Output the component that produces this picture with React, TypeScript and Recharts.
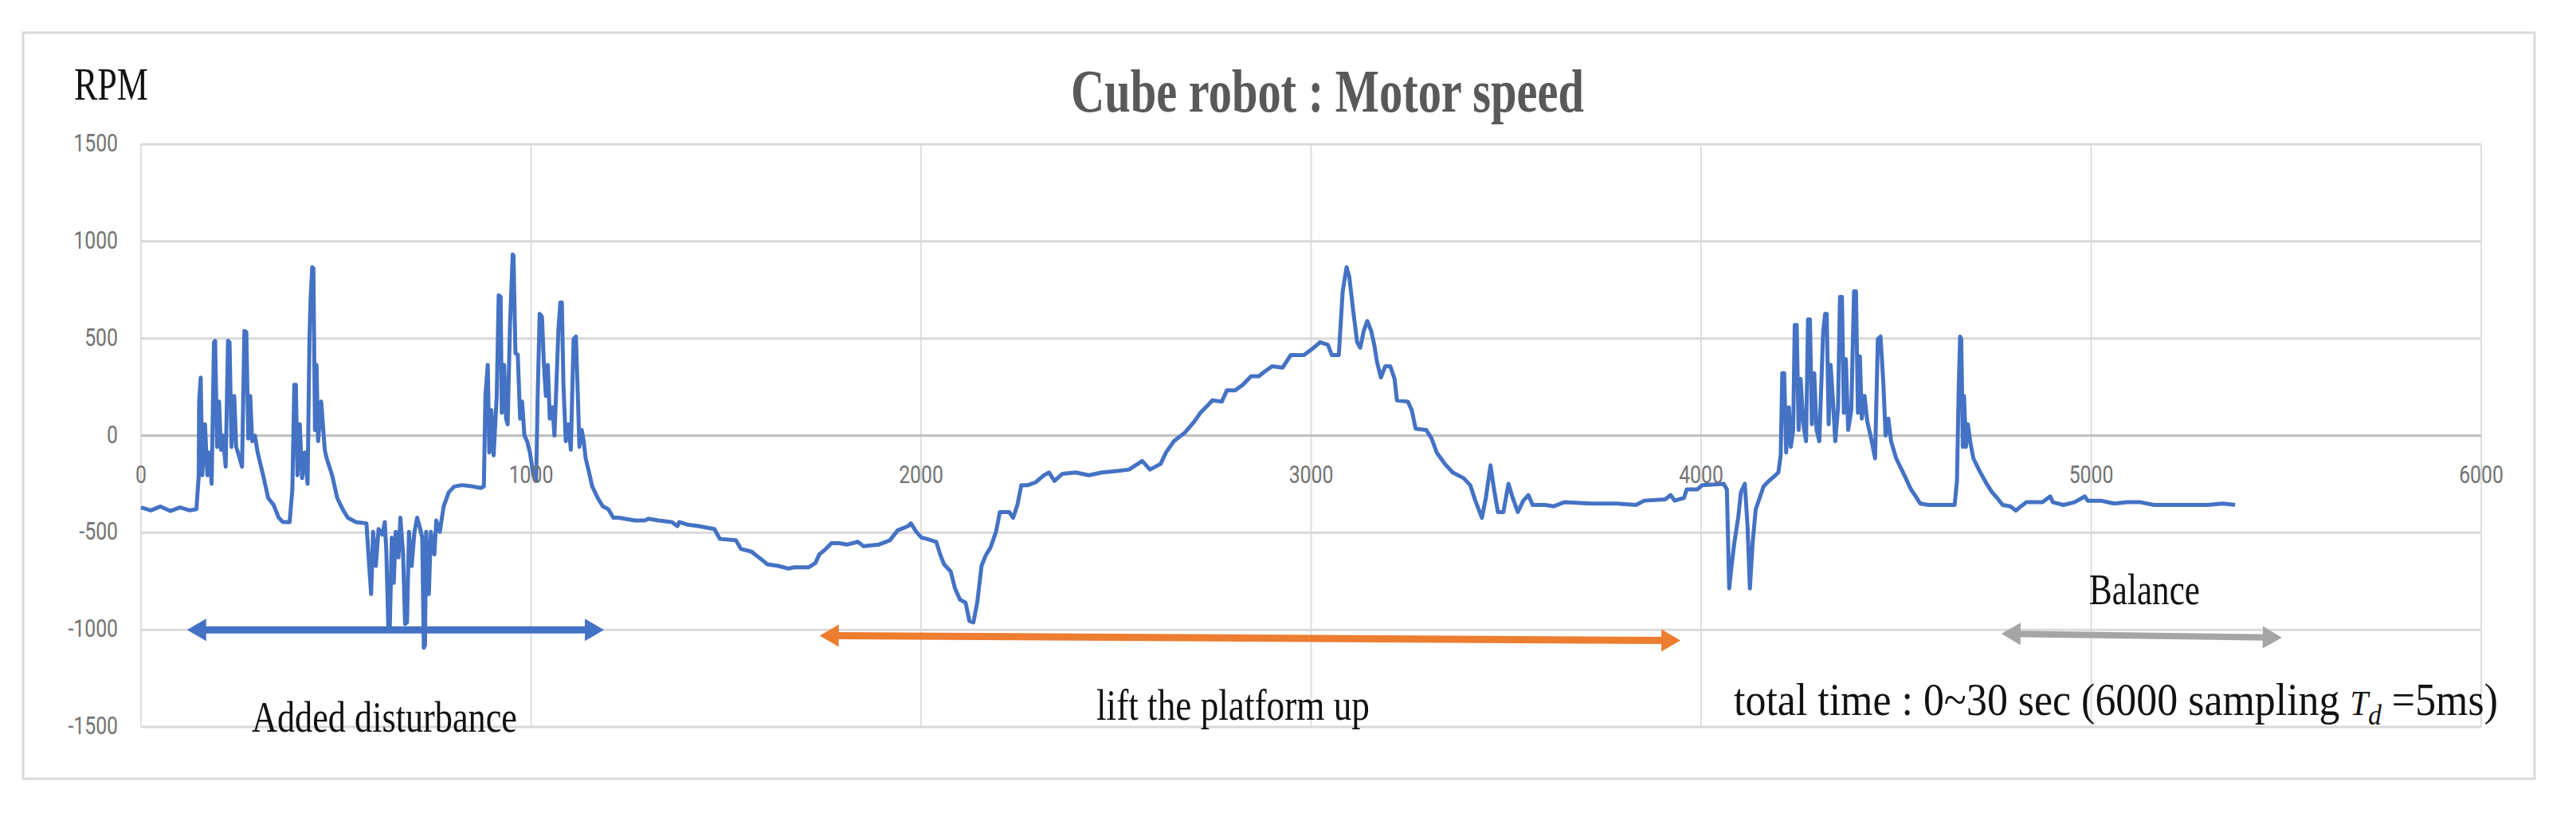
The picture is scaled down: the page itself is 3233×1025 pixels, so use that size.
import { LineChart, Line, XAxis, YAxis, CartesianGrid, ReferenceLine } from 'recharts'

const W = 3233
const H = 1025
// plot box in page pixels
const PLOT_LEFT = 177
const PLOT_RIGHT = 3114
const PLOT_TOP = 181
const PLOT_BOTTOM = 912
const ZERO_Y = (PLOT_TOP + PLOT_BOTTOM) / 2

const xTicks = [0, 1000, 2000, 3000, 4000, 5000, 6000]
const yTicks = [-1500, -1000, -500, 0, 500, 1000, 1500]

// sample index / motor rpm
const disturbanceIdx = [
  0, 25, 50, 75, 100, 125, 142, 148, 149, 153, 157, 164, 170, 175, 181, 187, 190, 195, 200, 205,
  210, 217, 223, 227, 232, 239, 244, 253, 259, 265, 270, 275, 280, 285, 292, 299, 313, 326, 340, 353,
  364, 381, 388, 393, 397, 401, 407, 413, 420, 427, 432, 435, 439, 442, 446, 450, 454, 462, 471, 476,
  490, 503, 517, 530, 551, 578, 585, 590, 595, 602, 609, 619, 625, 629, 634, 638, 643, 648, 653, 660,
  665, 672, 677, 682, 687, 694, 701, 708, 714, 721, 725, 728, 731, 738, 743, 752, 757, 766, 776, 789,
  803, 823, 851, 871, 879, 883, 889, 893, 898, 904, 912, 917, 922, 925, 931, 936, 940, 946, 953, 955,
  960, 966, 972, 977, 983, 990, 997, 1006, 1013, 1017, 1022, 1028, 1033, 1038, 1043, 1048, 1055, 1060, 1065, 1070,
  1075, 1079, 1083, 1089, 1096, 1102, 1109, 1115, 1120, 1124, 1130, 1135, 1140, 1147, 1157, 1171, 1184, 1198,
]
const disturbanceRpm = [
  -370, -385, -365, -388, -370, -385, -379, -204, 175, 299, -204, 58, -204, -87, -248, 481, 488, -58, 175, -73,
  0, -160, 488, 481, -58, 204, -58, -117, -160, 539, 532, -15, 204, -29, 0, -87, -204, -321, -357, -423,
  -445, -445, -277, 262, 262, -204, 58, -219, -87, -248, 510, 714, 867, 860, 29, 364, -29, 175, -73, -117,
  -204, -321, -379, -423, -445, -452, -671, -816, -496, -671, -481, -510, -445, -598, -984, -977, -525, -758, -496, -627,
  -423, -612, -970, -962, -496, -671, -496, -423, -466, -525, -1093, -1079, -496, -816, -496, -612, -437, -496, -364, -292,
  -262, -255, -262, -270, -262, 204, 364, -87, 131, -102, 204, 722, 714, 117, 364, 87, 58, 569, 933, 926,
  423, 416, 87, 175, 0, -29, -87, -204, -233, 204, 627, 612, 364, 204, 364, 87, 146, 0, 262, 539,
  685, 685, 262, -29, 58, -73, 496, 510, 204, -58, 29, -29, -117, -175, -262, -321, -364, -379,
]

const liftIdx = [
  1211, 1225, 1266, 1293, 1300, 1327, 1361, 1375, 1380, 1402, 1429, 1470, 1484, 1525, 1538, 1566, 1579, 1593, 1606, 1634,
  1660, 1675, 1712, 1729, 1739, 1756, 1770, 1790, 1811, 1838, 1852, 1892, 1920, 1940, 1967, 1974, 1988, 2001, 2015, 2039,
  2049, 2059, 2076, 2087, 2100, 2114, 2124, 2134, 2144, 2155, 2165, 2178, 2192, 2202, 2226, 2236, 2247, 2257, 2274, 2294,
  2315, 2328, 2342, 2362, 2396, 2430, 2464, 2505, 2533, 2567, 2587, 2614, 2628, 2648, 2676, 2701, 2716, 2737, 2747, 2771,
  2784, 2805, 2825, 2846, 2866, 2880, 2900, 2927, 2948, 2982, 3002, 3023, 3043, 3053, 3071, 3081, 3091, 3098, 3108, 3118,
  3126, 3135, 3144, 3154, 3162, 3169, 3179, 3190, 3203, 3214, 3220, 3248, 3258, 3268, 3295, 3309, 3322, 3343, 3363, 3391,
  3408, 3421, 3438, 3448, 3460, 3469, 3479, 3493, 3506, 3517, 3530, 3544, 3557, 3568, 3600, 3622, 3649, 3717, 3786, 3833,
  3854, 3908, 3922, 3932, 3956, 3963, 3990, 4003, 4058,
]
const liftRpm = [
  -423, -423, -437, -437, -428, -437, -445, -466, -445, -459, -466, -481, -532, -539, -583, -598, -620, -641, -663, -671,
  -685, -678, -678, -656, -612, -583, -554, -554, -561, -547, -569, -561, -539, -488, -466, -452, -496, -525, -532, -547,
  -612, -663, -700, -787, -845, -860, -955, -962, -860, -671, -620, -576, -496, -394, -394, -423, -357, -255, -255, -240,
  -204, -190, -233, -197, -190, -204, -190, -182, -175, -131, -175, -146, -87, -29, 15, 73, 117, 160, 182, 175,
  233, 233, 262, 306, 306, 328, 357, 350, 415, 415, 445, 481, 467, 415, 415, 743, 867, 816, 641, 481,
  452, 539, 590, 539, 467, 379, 299, 357, 357, 292, 182, 175, 131, 36, 29, -15, -87, -146, -190, -219,
  -255, -335, -423, -321, -153, -277, -394, -394, -248, -321, -394, -335, -306, -357, -357, -364, -343, -350, -350, -357,
  -335, -328, -306, -335, -321, -277, -277, -255, -248,
]

const balanceIdx = [
  4066, 4072, 4078, 4085, 4095, 4102, 4112, 4119, 4125, 4132, 4140, 4150, 4160, 4174, 4187, 4198, 4204, 4208, 4213, 4218,
  4225, 4230, 4236, 4240, 4245, 4250, 4255, 4262, 4269, 4274, 4279, 4284, 4290, 4296, 4303, 4313, 4318, 4322, 4327, 4332,
  4339, 4344, 4351, 4356, 4361, 4366, 4371, 4377, 4385, 4392, 4397, 4402, 4407, 4412, 4419, 4426, 4436, 4446, 4453, 4460,
  4467, 4473, 4480, 4487, 4500, 4521, 4538, 4548, 4562, 4582, 4616, 4650, 4656, 4660, 4664, 4667, 4671, 4674, 4679, 4684,
  4691, 4698, 4712, 4732, 4746, 4759, 4773, 4793, 4807, 4820, 4834, 4875, 4895, 4902, 4929, 4957, 4984, 4991, 5025, 5059,
  5093, 5127, 5161, 5229, 5297, 5338, 5369,
]
const balanceRpm = [
  -277, -787, -671, -554, -423, -292, -248, -466, -787, -554, -379, -321, -262, -233, -211, -190, -102, 321, 321, -87,
  146, -58, 29, 569, 569, 29, 292, 58, -29, 598, 598, 58, 321, 29, -29, 539, 627, 627, 58, 364,
  146, -29, 146, 714, 714, 117, 394, 29, 131, 743, 743, 117, 408, 87, 204, 73, -15, -117, 496, 510,
  277, 0, 87, -29, -117, -204, -277, -306, -350, -357, -357, -357, -233, 204, 510, 496, -58, 204, -58, 58,
  -44, -117, -175, -248, -292, -321, -357, -364, -386, -364, -343, -343, -313, -343, -357, -343, -313, -335, -335, -350,
  -343, -343, -357, -357, -357, -350, -357,
]

// annotation arrows (sample index / rpm at both ends)
const arrowStartIdx = [118, 1740, 4770]
const arrowEndIdx = [1187, 3947, 5489]
const arrowStartRpm = [-1000, -1030, -1020]
const arrowEndRpm = [-1000, -1055, -1040]
const arrowColors = ['#4472C4', '#ED7D31', '#A5A5A5']
const arrowWidths = [9, 9, 8]

const data = [
  ...disturbanceIdx.map((x, i) => ({ x, rpm: disturbanceRpm[i] })),
  ...liftIdx.map((x, i) => ({ x, rpm: liftRpm[i] })),
  ...balanceIdx.map((x, i) => ({ x, rpm: balanceRpm[i] })),
]

const TICK_FONT = 'Roboto, "Noto Sans", sans-serif'
const SERIF = '"Liberation Serif", "Times New Roman", serif'

function XTick(props: any) {
  const { x, payload } = props
  return (
    <g transform={`translate(${x},${ZERO_Y + 59})`}>
      <text transform="scale(0.8,1)" textAnchor="middle" fontFamily={TICK_FONT} fontSize={31} fill="#737373">
        {payload.value}
      </text>
    </g>
  )
}

function YTick(props: any) {
  const { y, payload } = props
  return (
    <g transform={`translate(148,${y + 9})`}>
      <text transform="scale(0.8,1)" textAnchor="end" fontFamily={TICK_FONT} fontSize={31} fill="#737373">
        {payload.value}
      </text>
    </g>
  )
}

function arrowShape(color: string, thick: number) {
  return (p: any) => {
    const { x1, y1, x2, y2 } = p
    const dx = x2 - x1
    const dy = y2 - y1
    const len = Math.hypot(dx, dy) || 1
    const ux = dx / len
    const uy = dy / len
    const nx = -uy
    const ny = ux
    const hl = 24
    const hw = 14
    const head = (tx: number, ty: number, dir: number) => {
      const bx = tx + dir * ux * hl
      const by = ty + dir * uy * hl
      return `${tx},${ty} ${bx + nx * hw},${by + ny * hw} ${bx - nx * hw},${by - ny * hw}`
    }
    return (
      <g>
        <line
          x1={x1 + ux * hl * 0.8}
          y1={y1 + uy * hl * 0.8}
          x2={x2 - ux * hl * 0.8}
          y2={y2 - uy * hl * 0.8}
          stroke={color}
          strokeWidth={thick}
        />
        <polygon points={head(x1, y1, 1)} fill={color} />
        <polygon points={head(x2, y2, -1)} fill={color} />
      </g>
    )
  }
}

export default function App() {
  return (
    <div style={{ position: 'absolute', left: 0, top: 0, width: W, height: H, background: '#fff' }}>
      <LineChart
        width={W}
        height={H}
        data={data}
        margin={{ top: PLOT_TOP, right: W - PLOT_RIGHT, bottom: H - PLOT_BOTTOM - 20, left: PLOT_LEFT - 40 }}
      >
        <CartesianGrid horizontal={false} stroke="#dedede" strokeWidth={2} />
        <CartesianGrid vertical={false} stroke="#d9d9d9" strokeWidth={3} />
        <XAxis
          type="number"
          dataKey="x"
          domain={[0, 6000]}
          ticks={xTicks}
          height={20}
          axisLine={false}
          tickLine={false}
          tick={(p: any) => <XTick {...p} />}
        />
        <YAxis
          type="number"
          domain={[-1500, 1500]}
          ticks={yTicks}
          width={40}
          axisLine={false}
          tickLine={false}
          tick={(p: any) => <YTick {...p} />}
        />
        <ReferenceLine y={0} stroke="#bfbfbf" strokeWidth={3} />
        <Line
          type="linear"
          dataKey="rpm"
          stroke="#4472C4"
          strokeWidth={5}
          strokeLinejoin="round"
          dot={false}
          isAnimationActive={false}
        />
        {arrowStartIdx.map((sx, i) => (
          <ReferenceLine
            key={i}
            segment={[
              { x: sx, y: arrowStartRpm[i] },
              { x: arrowEndIdx[i], y: arrowEndRpm[i] },
            ]}
            ifOverflow="visible"
            shape={arrowShape(arrowColors[i], arrowWidths[i])}
          />
        ))}
      </LineChart>
      <svg
        width={W}
        height={H}
        style={{ position: 'absolute', left: 0, top: 0, pointerEvents: 'none' }}
      >
        <rect x={29} y={41} width={3152} height={936} fill="none" stroke="#d9d9d9" strokeWidth={3} />
        <text x={1344} y={140} fontFamily={SERIF} fontWeight="bold" fontSize={76} fill="#595959"
          textLength={644} lengthAdjust="spacingAndGlyphs">Cube robot : Motor speed</text>
        <text x={93} y={125} fontFamily={SERIF} fontSize={58} fill="#111"
          textLength={93} lengthAdjust="spacingAndGlyphs">RPM</text>
        <text x={316} y={918} fontFamily={SERIF} fontSize={54} fill="#111"
          textLength={333} lengthAdjust="spacingAndGlyphs">Added disturbance</text>
        <text x={1376} y={903} fontFamily={SERIF} fontSize={55} fill="#111"
          textLength={343} lengthAdjust="spacingAndGlyphs">lift the platform up</text>
        <text x={2622} y={758} fontFamily={SERIF} fontSize={54} fill="#111"
          textLength={139} lengthAdjust="spacingAndGlyphs">Balance</text>
        <text x={2176} y={897} fontFamily={SERIF} fontSize={56} fill="#111"
          textLength={959} lengthAdjust="spacingAndGlyphs">
          total time : 0~30 sec (6000 sampling{' '}
          <tspan fontStyle="italic" fontSize={44}>T</tspan>
          <tspan fontStyle="italic" fontSize={36} dy={12}>d</tspan>
          <tspan dy={-12}> =5ms)</tspan>
        </text>
      </svg>
    </div>
  )
}
